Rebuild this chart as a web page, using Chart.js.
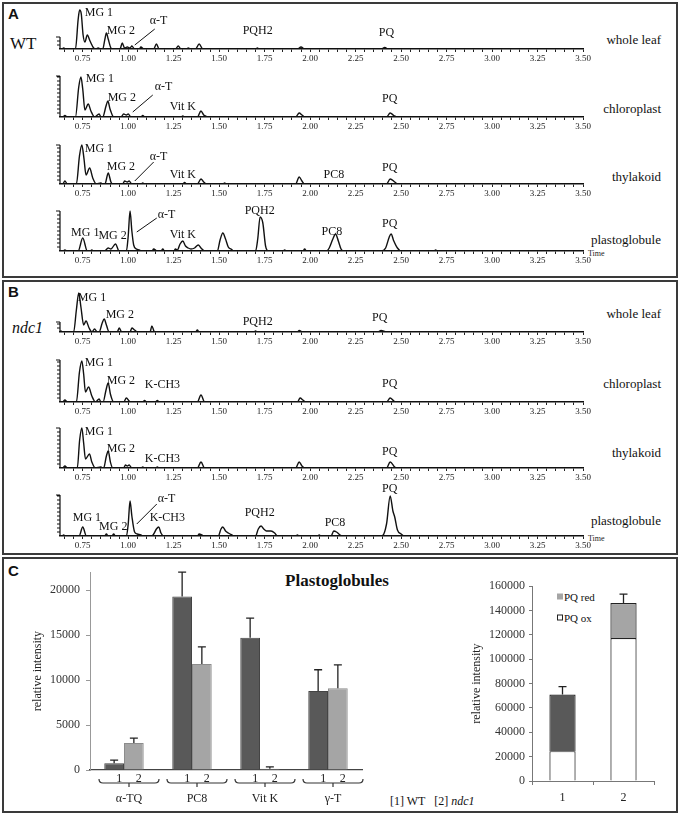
<!DOCTYPE html>
<html>
<head>
<meta charset="utf-8">
<script src="https://cdn.jsdelivr.net/npm/chart.js@4.4.1/dist/chart.umd.min.js"></script>
<style>
  body { margin: 0; background: #fff; }
  #fig { position: relative; width: 680px; height: 814px; overflow: hidden; font-family: 'Liberation Serif', 'Times New Roman', serif; color: #111; }
  .panel { position: absolute; box-sizing: border-box; border: 2px solid #3a3a3a; left: 2px; width: 676px; }
  canvas { position: absolute; }
  .t { position: absolute; white-space: nowrap; line-height: 1; transform: translateY(-50%); color: #111; }
  .side { font-size: 13px; right: 19px; }
  .tag { font-family: 'Liberation Sans', sans-serif; font-weight: bold; font-size: 15px; left: 8px; }
  .time { font-size: 8px; left: 588px; color: #222; }
  .sq { display: inline-block; width: 6px; height: 6px; margin-right: 1px; vertical-align: 1px; box-sizing: border-box; }
</style>
</head>
<body>
<div id="fig">
  <div class="panel" style="top:2px;height:276px"></div>
  <div class="panel" style="top:280px;height:275px"></div>
  <div class="panel" style="top:557px;height:256px"></div>

  <div class="t tag" style="top:13px">A</div>
  <div class="t tag" style="top:291px">B</div>
  <div class="t tag" style="top:570px">C</div>
  <div class="t" style="left:10px;top:43px;font-size:17px">WT</div>
  <div class="t" style="left:12px;top:328px;font-size:16px;font-style:italic">ndc1</div>

  <div class="t side" style="top:39px">whole leaf</div>
  <div class="t side" style="top:108px">chloroplast</div>
  <div class="t side" style="top:176px">thylakoid</div>
  <div class="t side" style="top:239px">plastoglobule</div>
  <div class="t side" style="top:313px">whole leaf</div>
  <div class="t side" style="top:383px">chloroplast</div>
  <div class="t side" style="top:452px">thylakoid</div>
  <div class="t side" style="top:520px">plastoglobule</div>
  <div class="t time" style="top:254px">Time</div>
  <div class="t time" style="top:539px">Time</div>

  <div class="t" style="left:337px;top:580px;font-size:17px;font-weight:bold;transform:translate(-50%,-50%)">Plastoglobules</div>
  <div class="t" style="left:390px;top:801px;font-size:12px">[1] WT &nbsp;&nbsp;[2] <i>ndc1</i></div>
  <div class="t" style="left:557px;top:597px;font-size:11px"><span class="sq" style="background:#a5a5a5"></span>PQ red</div>
  <div class="t" style="left:557px;top:618px;font-size:11px"><span class="sq" style="background:#fff;border:1px solid #222"></span>PQ ox</div>

  <canvas id="a1" width="543" height="74"></canvas>
  <canvas id="a2" width="543" height="74"></canvas>
  <canvas id="a3" width="543" height="74"></canvas>
  <canvas id="a4" width="543" height="74"></canvas>
  <canvas id="b1" width="543" height="74"></canvas>
  <canvas id="b2" width="543" height="74"></canvas>
  <canvas id="b3" width="543" height="74"></canvas>
  <canvas id="b4" width="543" height="74"></canvas>
  <canvas id="barsC" width="350" height="251"></canvas>
  <canvas id="pqC" width="190" height="232"></canvas>
</div>

<script>
// time axis labels (min)
const timeLabels = ['0.75', '1.00', '1.25', '1.50', '1.75', '2.00', '2.25', '2.50', '2.75', '3.00', '3.25', '3.50'];

// chromatogram traces, [time, signal]
const wtLeaf = [[0.625,0],[0.635,0],[0.645,1],[0.66,0],[0.71,0],[0.725,30],[0.733,39],[0.742,35],[0.752,14],[0.762,7],[0.775,14],[0.79,8],[0.81,1],[0.82,0],[0.835,1],[0.85,0],[0.86,0],[0.872,10],[0.88,16],[0.89,10],[0.905,1],[0.915,0],[0.955,0],[0.967,6],[0.98,1],[0.995,2],[1.01,1],[1.02,3],[1.035,0],[1.06,0],[1.07,2],[1.085,0],[1.14,0],[1.155,5],[1.17,0],[1.26,0],[1.275,3],[1.29,0],[1.32,0],[1.33,1],[1.345,0],[1.37,0],[1.39,5],[1.41,0],[1.7,0],[1.71,1],[1.72,0],[1.93,0],[1.95,2],[1.97,0],[2.39,0],[2.41,1.5],[2.43,0],[3.5,0]];
const wtChloro = [[0.625,0],[0.64,0],[0.652,1.5],[0.665,0],[0.71,0],[0.728,30],[0.74,40],[0.75,28],[0.762,7],[0.78,13],[0.795,6],[0.815,0],[0.84,3],[0.85,0],[0.86,0],[0.878,11],[0.888,16],[0.9,8],[0.92,0],[0.96,0],[0.975,3],[0.99,2],[1.0,3],[1.015,0],[1.07,0],[1.08,1.5],[1.09,0],[1.29,0],[1.3,1],[1.31,0],[1.38,0],[1.4,6],[1.415,2],[1.425,1],[1.44,0],[1.92,0],[1.94,4],[1.955,2],[1.97,0],[2.42,0],[2.44,4],[2.46,1.5],[2.48,0],[3.5,0]];
const wtThyl = [[0.625,0],[0.64,0],[0.652,3],[0.665,0],[0.715,0],[0.732,28],[0.745,39],[0.757,25],[0.768,9],[0.788,16],[0.805,6],[0.825,0],[0.85,1],[0.86,0],[0.872,0],[0.89,11],[0.905,2],[0.915,0],[0.97,0],[0.98,3],[0.995,2],[1.005,3],[1.02,0],[1.07,0],[1.08,1],[1.09,0],[1.3,0],[1.31,1.5],[1.32,0],[1.38,0],[1.4,5],[1.415,2],[1.43,0],[1.52,0],[1.53,1],[1.54,0],[1.92,0],[1.94,7],[1.955,3],[1.97,0],[2.42,0],[2.44,5],[2.465,2],[2.48,0],[3.5,0]];
const wtPlasto = [[0.625,0],[0.64,0],[0.652,1],[0.665,0],[0.725,0],[0.75,13],[0.775,0],[0.79,0],[0.8,1],[0.81,0],[0.87,0],[0.89,3],[0.905,2],[0.93,7],[0.95,0],[0.99,0],[1.0,15],[1.01,40],[1.02,20],[1.03,6],[1.045,2],[1.06,1],[1.075,0],[1.13,0],[1.14,2],[1.16,0],[1.18,0],[1.19,2],[1.2,0],[1.25,0],[1.26,2],[1.27,1],[1.285,7],[1.3,10],[1.315,5],[1.33,3],[1.345,2],[1.365,3],[1.385,6],[1.4,3],[1.42,0],[1.49,0],[1.505,11],[1.52,18],[1.535,12],[1.55,4],[1.565,2],[1.58,0],[1.7,0],[1.712,12],[1.725,34],[1.74,28],[1.755,5],[1.77,0],[1.85,0],[1.86,1],[1.87,0],[1.96,0],[1.97,2],[1.98,0],[2.09,0],[2.105,3],[2.125,12],[2.14,17],[2.155,10],[2.17,2],[2.185,0],[2.39,0],[2.415,3],[2.435,14],[2.445,17],[2.46,10],[2.48,3],[2.5,0],[2.68,0],[2.69,1],[2.7,0],[3.5,0]];
const ndcLeaf = [[0.625,0],[0.63,1],[0.64,0],[0.7,0],[0.715,22],[0.728,39],[0.74,25],[0.755,7],[0.768,11],[0.785,4],[0.8,0],[0.815,3],[0.83,0],[0.84,0],[0.857,9],[0.868,13],[0.88,7],[0.895,0],[0.94,0],[0.95,4],[0.965,0],[1.01,0],[1.02,4],[1.035,2],[1.05,0],[1.12,0],[1.13,6],[1.145,0],[1.37,0],[1.38,2],[1.39,0],[1.69,0],[1.7,1],[1.71,0],[1.93,0],[1.94,1.5],[1.96,0],[2.37,0],[2.39,1.5],[2.42,0],[3.5,0]];
const ndcChloro = [[0.625,0],[0.64,0],[0.652,2],[0.665,0],[0.715,0],[0.732,30],[0.745,41],[0.755,28],[0.765,10],[0.782,15],[0.8,6],[0.82,0],[0.84,3],[0.85,0],[0.862,0],[0.878,12],[0.89,19],[0.902,8],[0.92,0],[0.975,0],[0.99,4],[1.005,1],[1.015,0],[1.08,0],[1.09,1.5],[1.1,0],[1.15,0],[1.16,1.5],[1.17,0],[1.38,0],[1.4,7],[1.42,0],[1.93,0],[1.945,4],[1.96,2],[1.975,0],[2.42,0],[2.44,4],[2.46,1],[2.48,0],[3.5,0]];
const ndcThyl = [[0.625,0],[0.64,0],[0.652,2],[0.665,0],[0.72,0],[0.733,28],[0.745,40],[0.755,25],[0.765,9],[0.787,14],[0.8,6],[0.82,0],[0.85,1],[0.86,0],[0.865,0],[0.88,12],[0.89,17],[0.902,6],[0.915,0],[0.975,0],[0.985,3],[0.995,2],[1.005,3],[1.02,0],[1.07,0],[1.08,1],[1.09,0],[1.15,0],[1.16,1],[1.17,0],[1.38,0],[1.4,6],[1.42,0],[1.92,0],[1.94,6],[1.955,2],[1.97,0],[2.42,0],[2.44,6],[2.465,1],[2.48,0],[3.5,0]];
const ndcPlasto = [[0.625,0],[0.635,0],[0.645,1],[0.655,0],[0.73,0],[0.75,9],[0.77,0],[0.87,0],[0.88,2],[0.89,0],[0.91,0],[0.92,2],[0.93,0],[0.99,0],[1.0,12],[1.01,35],[1.02,20],[1.035,4],[1.05,2],[1.07,1],[1.08,0],[1.13,0],[1.14,2],[1.155,7],[1.168,9],[1.18,3],[1.195,0],[1.38,0],[1.39,2],[1.405,1],[1.415,0],[1.495,0],[1.51,7],[1.52,9],[1.535,5],[1.55,3],[1.57,1],[1.585,0],[1.7,0],[1.715,7],[1.73,10],[1.745,7],[1.76,5],[1.785,5],[1.805,3],[1.82,0],[1.92,0],[1.93,1],[1.94,0],[2.04,0],[2.05,1],[2.06,0],[2.115,0],[2.13,5],[2.145,4],[2.165,1],[2.18,0],[2.395,0],[2.42,12],[2.44,40],[2.455,25],[2.465,19],[2.48,6],[2.5,2],[2.52,0],[3.5,0]];

// peak names: [text, time, height, align]
const wtLeafNotes = [['MG 1',0.761,36],['MG 2',0.882,18],['α-T',1.118,28],['PQH2',1.629,18],['PQ',2.42,16,'center']];
const wtChloroNotes = [['MG 1',0.766,38],['MG 2',0.887,19],['α-T',1.146,30],['Vit K',1.228,10],['PQ',2.437,18,'center']];
const wtThylNotes = [['MG 1',0.761,35],['MG 2',0.882,17],['α-T',1.118,27],['Vit K',1.228,9],['PC8',2.074,9],['PQ',2.437,16,'center']];
const wtPlastoNotes = [['MG 1',0.686,18],['MG 2',0.836,15],['α-T',1.162,36],['Vit K',1.228,16],['PQH2',1.64,40],['PC8',2.063,19],['PQ',2.437,27,'center']];
const ndcLeafNotes = [['MG 1',0.723,34],['MG 2',0.876,17],['PQH2',1.629,10],['PQ',2.382,14,'center']];
const ndcChloroNotes = [['MG 1',0.761,39],['MG 2',0.882,21],['K-CH3',1.091,17],['PQ',2.437,18,'center']];
const ndcThylNotes = [['MG 1',0.761,36],['MG 2',0.882,19],['K-CH3',1.091,9],['PQ',2.437,16,'center']];
const ndcPlastoNotes = [['MG 1',0.695,18],['MG 2',0.84,9],['α-T',1.162,37],['K-CH3',1.118,18],['PQH2',1.64,23],['PC8',2.08,13],['PQ',2.437,47,'center']];

// panel C, plastoglobule contents
const groups = ['α-TQ', 'PC8', 'Vit K', 'γ-T'];
const wtMeans = [750, 19300, 14700, 8800];
const wtErr = [350, 2700, 2200, 2350];
const ndcMeans = [3000, 11800, 150, 9100];
const ndcErr = [550, 1900, 200, 2600];
const intensityTicks = [0, 5000, 10000, 15000, 20000];

const pqGroups = ['1', '2'];
const pqOx = [24500, 117500];
const pqRed = [46500, 28600];
const pqErr = [6500, 7400];
const pqTicks = [0, 20000, 40000, 60000, 80000, 100000, 120000, 140000, 160000];

const SERIF = "'Liberation Serif', 'Times New Roman', serif";
Chart.defaults.font.family = SERIF;
Chart.defaults.color = '#222';
Chart.defaults.animation = false;

// minor tick every 0.05 between labels
const timeTicks = [];
for (let k = 13; k <= 70; k++) timeTicks.push(k / 20);

function chromatogram(id, pts, baseline, strip, notes, lead) {
    const cv = document.getElementById(id);
    const deco = {
        id: 'deco',
        afterDatasetsDraw(chart) {
            const ctx = chart.ctx, x = chart.scales.x, y = chart.scales.y;
            const x0 = chart.chartArea.left, y0 = y.getPixelForValue(0), yt = y.getPixelForValue(strip);
            ctx.save();
            ctx.strokeStyle = '#111';
            ctx.lineWidth = 1.2;
            ctx.beginPath();
            ctx.moveTo(x0, y0); ctx.lineTo(x0, yt);
            for (let p = y0 - 4; p >= yt - 0.5; p -= 4) { ctx.moveTo(x0 - 3, p); ctx.lineTo(x0, p); }
            ctx.moveTo(x0 - 5, yt); ctx.lineTo(x0, yt);
            ctx.stroke();
            if (lead) {
                ctx.lineWidth = 1;
                ctx.beginPath();
                ctx.moveTo(x.getPixelForValue(lead[0]), y.getPixelForValue(lead[1]));
                ctx.lineTo(x.getPixelForValue(lead[2]), y.getPixelForValue(lead[3]));
                ctx.stroke();
            }
            ctx.fillStyle = '#111';
            ctx.font = "12px " + SERIF;
            ctx.textBaseline = 'middle';
            notes.forEach(n => {
                ctx.textAlign = n[3] || 'left';
                ctx.fillText(n[0], x.getPixelForValue(n[1]), y.getPixelForValue(n[2]));
            });
            ctx.restore();
        }
    };
    const chart = new Chart(cv, {
        type: 'line',
        data: {
            datasets: [{
                data: pts.map(p => ({ x: p[0], y: p[1] })),
                borderColor: '#111',
                borderWidth: 1.4,
                pointRadius: 0,
                cubicInterpolationMode: 'monotone'
            }]
        },
        options: {
            responsive: false,
            layout: { padding: { left: 4, right: 16, top: 6, bottom: 0 } },
            plugins: { legend: { display: false }, tooltip: { enabled: false } },
            scales: {
                x: {
                    type: 'linear', min: 0.625, max: 3.5,
                    afterBuildTicks: s => { s.ticks = timeTicks.map(v => ({ value: v })); },
                    afterFit: s => { s.height = 18; },
                    ticks: {
                        autoSkip: false, maxRotation: 0, padding: 1, color: '#222',
                        font: { size: 9, family: SERIF },
                        callback: v => timeLabels.find(l => Math.abs(+l - v) < 1e-6) || ''
                    },
                    grid: { drawOnChartArea: false, tickLength: 3, color: '#222' },
                    border: { color: '#111', width: 1.5 }
                },
                y: { display: false, min: 0, max: 50 }
            }
        },
        plugins: [deco]
    });
    cv.style.left = (60 - chart.chartArea.left) + 'px';
    cv.style.top = (baseline - chart.chartArea.bottom) + 'px';
}

chromatogram('a1', wtLeaf, 49, 12, wtLeafNotes, [1.036, 4, 1.146, 20]);
chromatogram('a2', wtChloro, 117, 41, wtChloroNotes, [1.025, 5, 1.135, 22]);
chromatogram('a3', wtThyl, 184, 39, wtThylNotes, [1.036, 3, 1.14, 22]);
chromatogram('a4', wtPlasto, 251, 40, wtPlastoNotes, [1.047, 19, 1.157, 33]);
chromatogram('b1', ndcLeaf, 332, 10, ndcLeafNotes, null);
chromatogram('b2', ndcChloro, 402, 42, ndcChloroNotes, null);
chromatogram('b3', ndcThyl, 468, 40, ndcThylNotes, null);
chromatogram('b4', ndcPlasto, 536, 41, ndcPlastoNotes, [1.047, 12, 1.157, 32]);

// error bars, cap on top only
function errorBars(sets) {
    return {
        id: 'errs',
        afterDatasetsDraw(chart) {
            const ctx = chart.ctx, y = chart.scales.y;
            ctx.save();
            ctx.strokeStyle = '#222';
            ctx.lineWidth = 1.3;
            sets.forEach(([d, tops, errs]) => {
                chart.getDatasetMeta(d).data.forEach((bar, i) => {
                    const yt = y.getPixelForValue(tops[i] + errs[i]);
                    ctx.beginPath();
                    ctx.moveTo(bar.x, bar.y); ctx.lineTo(bar.x, yt);
                    ctx.moveTo(bar.x - 4, yt); ctx.lineTo(bar.x + 4, yt);
                    ctx.stroke();
                });
            });
            ctx.restore();
        }
    };
}

const groupAxis = {
    id: 'groupAxis',
    afterDraw(chart) {
        const ctx = chart.ctx, y0 = chart.scales.y.getPixelForValue(0);
        ctx.save();
        ctx.fillStyle = '#222';
        ctx.strokeStyle = '#333';
        ctx.lineWidth = 1.2;
        ctx.font = "12px " + SERIF;
        ctx.textAlign = 'center';
        ctx.textBaseline = 'middle';
        groups.forEach((g, i) => {
            const cx = chart.scales.x.getPixelForValue(i) + 5;
            ctx.fillText('1', chart.getDatasetMeta(0).data[i].x + 5, y0 + 9);
            ctx.fillText('2', chart.getDatasetMeta(1).data[i].x + 5, y0 + 9);
            ctx.beginPath();
            ctx.moveTo(cx - 30, y0 + 9);
            ctx.quadraticCurveTo(cx - 30, y0 + 13, cx - 26, y0 + 13);
            ctx.lineTo(cx + 26, y0 + 13);
            ctx.quadraticCurveTo(cx + 30, y0 + 13, cx + 30, y0 + 9);
            ctx.moveTo(cx, y0 + 13); ctx.lineTo(cx, y0 + 17);
            ctx.stroke();
            ctx.fillText(g, cx, y0 + 29);
        });
        ctx.restore();
    }
};

const barsCv = document.getElementById('barsC');
const bars = new Chart(barsCv, {
    type: 'bar',
    data: {
        labels: groups,
        datasets: [
            { label: 'WT', data: wtMeans, backgroundColor: '#595959', borderColor: '#444', borderWidth: 1 },
            { label: 'ndc1', data: ndcMeans, backgroundColor: '#a5a5a5', borderColor: '#8c8c8c', borderWidth: 1 }
        ]
    },
    options: {
        responsive: false,
        categoryPercentage: 0.58,
        barPercentage: 1,
        layout: { padding: { left: 0, right: 4, top: 10, bottom: 0 } },
        plugins: { legend: { display: false }, tooltip: { enabled: false } },
        scales: {
            x: {
                ticks: { display: false },
                grid: { display: false },
                border: { color: '#444', width: 1.2 },
                afterFit: s => { s.height = 40; }
            },
            y: {
                min: 0, max: 22000,
                afterBuildTicks: s => { s.ticks = intensityTicks.map(v => ({ value: v })); },
                afterFit: s => { s.width = 74; },
                ticks: { font: { size: 12, family: SERIF }, padding: 6, color: '#333', callback: v => String(v) },
                grid: { drawOnChartArea: false, tickLength: 4, color: '#999' },
                border: { color: '#999', width: 1 },
                title: { display: true, text: 'relative intensity', font: { size: 12, family: SERIF }, color: '#222', padding: { top: 15, bottom: 0 } }
            }
        }
    },
    plugins: [errorBars([[0, wtMeans, wtErr], [1, ndcMeans, ndcErr]]), groupAxis]
});
barsCv.style.left = (90 - bars.chartArea.left) + 'px';
barsCv.style.top = (572 - bars.chartArea.top) + 'px';

const pqTotals = pqOx.map((v, i) => v + pqRed[i]);
const pqCv = document.getElementById('pqC');
const pq = new Chart(pqCv, {
    type: 'bar',
    data: {
        labels: pqGroups,
        datasets: [
            { label: 'PQ ox', data: pqOx, backgroundColor: '#fff', borderColor: '#222', borderWidth: 1.2 },
            { label: 'PQ red', data: pqRed, backgroundColor: ['#595959', '#a5a5a5'], borderColor: '#222', borderWidth: 1.2 }
        ]
    },
    options: {
        responsive: false,
        categoryPercentage: 0.43,
        barPercentage: 1,
        layout: { padding: { left: 0, right: 6, top: 10, bottom: 0 } },
        plugins: { legend: { display: false }, tooltip: { enabled: false } },
        scales: {
            x: {
                stacked: true,
                ticks: { font: { size: 12, family: SERIF }, padding: 6, color: '#222' },
                grid: { drawOnChartArea: false, tickLength: 4, color: '#777' },
                border: { color: '#777', width: 1 },
                afterFit: s => { s.height = 26; }
            },
            y: {
                stacked: true, min: 0, max: 160000,
                afterBuildTicks: s => { s.ticks = pqTicks.map(v => ({ value: v })); },
                afterFit: s => { s.width = 62; },
                ticks: { font: { size: 12, family: SERIF }, padding: 4, color: '#333', callback: v => String(v) },
                grid: { drawOnChartArea: false, tickLength: 3, color: '#777' },
                border: { color: '#777', width: 1 },
                title: { display: true, text: 'relative intensity', font: { size: 12, family: SERIF }, color: '#222', padding: { top: 0, bottom: 0 } }
            }
        }
    },
    plugins: [errorBars([[1, pqTotals, pqErr]])]
});
pqCv.style.left = (532 - pq.chartArea.left) + 'px';
pqCv.style.top = (586 - pq.chartArea.top) + 'px';
</script>
</body>
</html>
